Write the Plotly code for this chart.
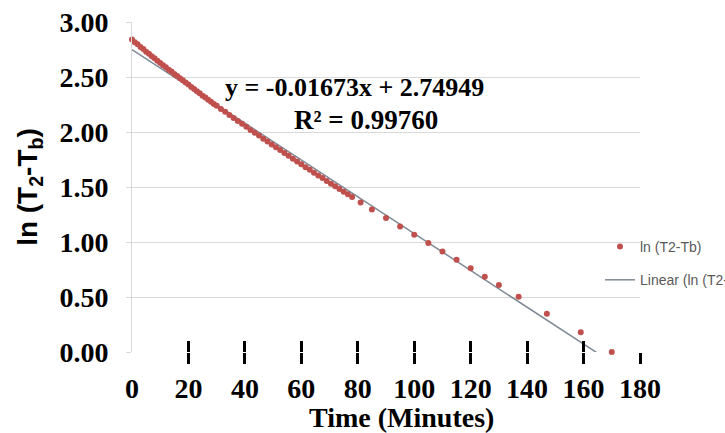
import plotly.graph_objects as go

# ---- data ----
time_min = [0, 1, 2, 3, 4, 5, 6, 7, 8, 9, 10, 11, 12, 13, 14, 15, 16, 17, 18, 19, 20,
            21, 22, 23, 24, 25, 26, 27, 28, 29, 30,
            31.5, 33, 34.5, 36, 37.5, 39, 40.5, 42, 43.5, 45, 46.5, 48, 49.5, 51,
            52.5, 54, 55.5, 57, 58.5, 60, 61.5, 63, 64.5, 66, 67.5, 69, 70.5, 72,
            73.5, 75, 76.5, 78,
            81, 85, 90, 95, 100, 105, 110, 115, 120, 125, 130, 137, 147, 159, 170]
ln_t2_tb = [2.840, 2.817, 2.797, 2.773, 2.754, 2.730, 2.711, 2.688, 2.670, 2.647, 2.628,
            2.606, 2.589, 2.567, 2.549, 2.528, 2.510, 2.488, 2.470, 2.449, 2.431,
            2.409, 2.391, 2.370, 2.352, 2.330, 2.314, 2.293, 2.276, 2.255, 2.238,
            2.210, 2.185, 2.154, 2.128, 2.099, 2.074, 2.047, 2.019, 1.993, 1.968,
            1.939, 1.914, 1.886, 1.861, 1.836, 1.808, 1.783, 1.756, 1.732, 1.706,
            1.680, 1.657, 1.629, 1.605, 1.581, 1.554, 1.530, 1.507, 1.481, 1.457,
            1.434, 1.409,
            1.360, 1.296, 1.219, 1.142, 1.066, 0.990, 0.914, 0.838, 0.762, 0.685,
            0.610, 0.503, 0.348, 0.180, 0.000]

trend_slope = -0.01673
trend_intercept = 2.74949
r_squared = 0.99760

x_tick_vals = [0, 20, 40, 60, 80, 100, 120, 140, 160, 180]
x_tick_marks = [20, 40, 60, 80, 100, 120, 140, 160, 180]
y_tick_vals = [0.0, 0.5, 1.0, 1.5, 2.0, 2.5, 3.0]

series_name = "ln (T2-Tb)"
trend_name = "Linear (ln (T2-Tb))"

# ---- figure ----
x_fit = [min(time_min), max(time_min)]
y_fit = [trend_intercept + trend_slope * x for x in x_fit]

serif_bold = dict(family="Liberation Serif, Times New Roman, serif", size=28,
                  color="black", weight="bold")

fig = go.Figure()
fig.add_trace(go.Scatter(
    x=x_fit, y=y_fit, mode="lines", name=trend_name,
    line=dict(color="#7f8a96", width=1.5), legendrank=2,
    legendgroup="b", hoverinfo="skip"))
fig.add_trace(go.Scatter(
    x=time_min, y=ln_t2_tb, mode="markers", name=series_name,
    marker=dict(color="#c0504d", size=6, symbol="circle"),
    cliponaxis=False, legendrank=1, legendgroup="a"))
# empty carriers so the two overlaid tick-mark axes are rendered
for ax in ("x2", "x3"):
    fig.add_trace(go.Scatter(x=[], y=[], xaxis=ax, yaxis="y", mode="markers",
                             showlegend=False, hoverinfo="skip"))

common_x = dict(range=[0, 180], showgrid=False, zeroline=False, showline=False,
                fixedrange=True)

fig.update_layout(
    width=725, height=433, autosize=False,
    margin=dict(l=132, r=85, t=22, b=81, autoexpand=False),
    paper_bgcolor="white", plot_bgcolor="white",
    showlegend=True,
    legend=dict(xref="container", yref="container", x=600 / 725, y=1 - 231 / 433,
                xanchor="left", yanchor="top", traceorder="grouped",
                tracegroupgap=12, bgcolor="rgba(0,0,0,0)", itemsizing="trace",
                font=dict(family="Liberation Sans Narrow, Liberation Sans, Arial, sans-serif",
                          size=14, color="#595959")),
    xaxis=dict(**common_x, tickmode="array", tickvals=x_tick_vals,
               ticktext=[str(v) for v in x_tick_vals],
               ticks="outside", ticklen=11, tickwidth=3, tickcolor="rgba(0,0,0,0)",
               tickfont=serif_bold, ticklabelstandoff=0),
    xaxis2=dict(**common_x, overlaying="x", anchor="y", side="bottom", linewidth=0,
                tickmode="array", tickvals=x_tick_marks, showticklabels=False,
                ticks="outside", ticklen=11, tickwidth=3, tickcolor="black"),
    xaxis3=dict(**common_x, overlaying="x", anchor="y", side="bottom", linewidth=0,
                tickmode="array", tickvals=x_tick_marks, showticklabels=False,
                ticks="inside", ticklen=11, tickwidth=3, tickcolor="black"),
    yaxis=dict(range=[0, 3.0], tickmode="array", tickvals=y_tick_vals,
               tickformat=".2f", showgrid=True, gridcolor="#d9d9d9", gridwidth=1,
               zeroline=False, showline=True, linecolor="#d9d9d9", linewidth=1,
               ticks="outside", ticklen=5, tickcolor="#d9d9d9",
               tickfont=serif_bold, ticklabelstandoff=12, fixedrange=True,
               title=dict(text="ln (T<sub>2</sub>-T<sub>b</sub>)", standoff=13,
                          font=dict(family="Liberation Sans, Arial, sans-serif",
                                    size=28, color="black", weight="bold"))),
)

fig.add_annotation(text="Time (Minutes)", xref="paper", yref="paper",
                   x=(401 - 132) / 508, y=-(417 - 352) / 330, showarrow=False,
                   xanchor="center", yanchor="middle", font=serif_bold)
fig.add_annotation(text=f"y = {trend_slope:.5f}x + {trend_intercept:.5f}",
                   xref="paper", yref="paper", x=(354 - 132) / 508,
                   y=(352 - 88) / 330, showarrow=False, xanchor="center",
                   yanchor="middle", font=dict(serif_bold, size=26))
fig.add_annotation(text=f"R² = {r_squared:.5f}",
                   xref="paper", yref="paper", x=(366 - 132) / 508,
                   y=(352 - 120) / 330, showarrow=False, xanchor="center",
                   yanchor="middle", font=dict(serif_bold, size=27))

# remove the default 8px page margin so the figure sits at the window's corner
fig.write_html("out.html", config={"displayModeBar": False},
               post_script="document.body.style.margin='0';document.body.style.padding='0';")
